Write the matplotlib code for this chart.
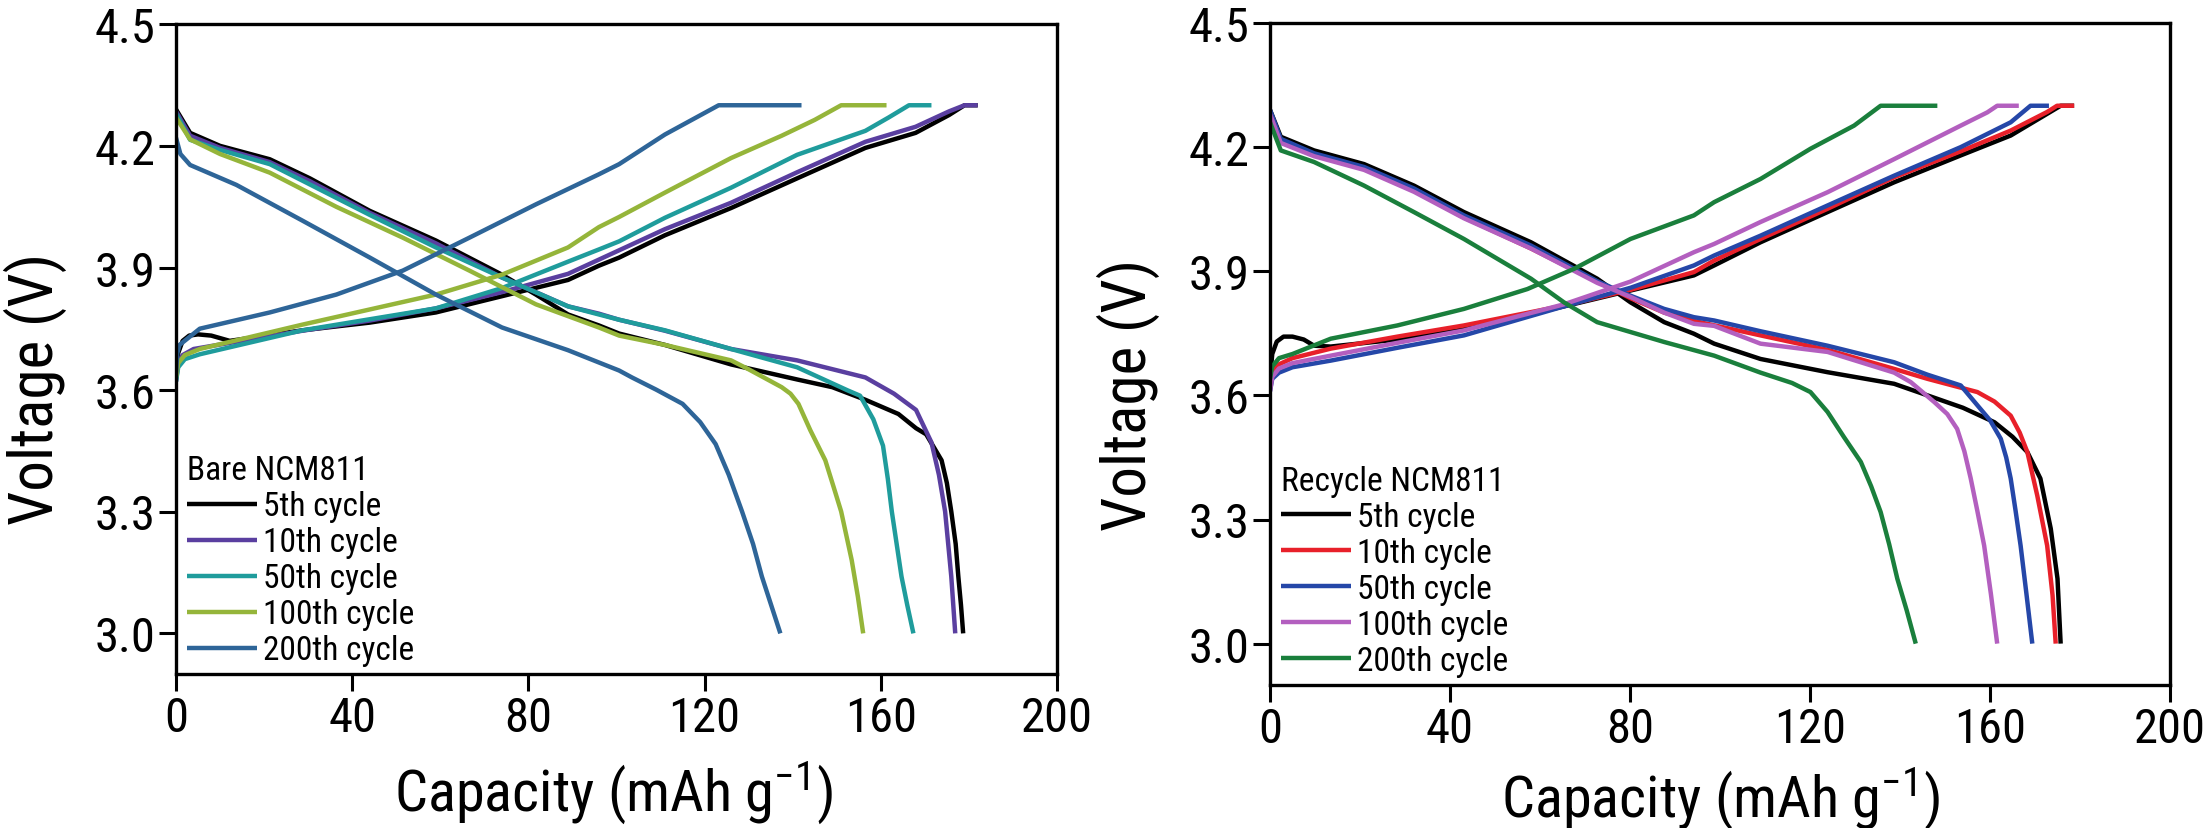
import matplotlib
matplotlib.use("Agg")
import matplotlib.pyplot as plt
from matplotlib import font_manager
from matplotlib.ticker import FormatStrFormatter

CYCLES = ["5th cycle", "10th cycle", "50th cycle", "100th cycle", "200th cycle"]
BARE_COLORS = ["#000000", "#5a3fa0", "#1f9c9c", "#95b53a", "#2e6598"]
RECY_COLORS = ["#000000", "#e8202a", "#2547a8", "#b35fbf", "#1a7f3c"]

# ---- Bare NCM811, charge branches (capacity mAh/g, voltage V)
bare5_ch_q = [0, 0.5, 1.5, 3, 5, 8, 12.2, 28.7, 44, 59, 74, 89, 96, 100.6, 111, 126, 141, 156.5, 167.9, 175.5, 179, 182]
bare5_ch_v = [3.63, 3.69, 3.72, 3.733, 3.736, 3.733, 3.72, 3.746, 3.765, 3.79, 3.83, 3.87, 3.905, 3.925, 3.98, 4.047, 4.12, 4.195, 4.232, 4.276, 4.30, 4.30]
bare10_ch_q = [0, 0.5, 1.5, 4, 12.2, 28.7, 44, 59, 74, 89, 96, 111, 126, 141, 156.5, 167.9, 175.5, 179, 182]
bare10_ch_v = [3.62, 3.665, 3.685, 3.70, 3.715, 3.745, 3.77, 3.80, 3.84, 3.885, 3.92, 3.995, 4.06, 4.135, 4.21, 4.247, 4.285, 4.30, 4.30]
bare50_ch_q = [0, 0.5, 2, 5.4, 28.7, 59, 74, 89, 96, 100.6, 111, 126, 141, 156.5, 161.8, 166.4, 171.5]
bare50_ch_v = [3.62, 3.655, 3.675, 3.687, 3.746, 3.80, 3.85, 3.915, 3.945, 3.965, 4.023, 4.097, 4.178, 4.237, 4.27, 4.30, 4.30]
bare100_ch_q = [0, 0.5, 2, 5.4, 28.7, 59, 74, 89, 96, 100.6, 111, 126, 137.5, 145, 151, 161.3]
bare100_ch_v = [3.63, 3.665, 3.685, 3.70, 3.76, 3.834, 3.883, 3.95, 4.0, 4.025, 4.085, 4.17, 4.225, 4.264, 4.30, 4.30]
bare200_ch_q = [0, 0.3, 0.8, 5.4, 21.3, 36.4, 51.5, 66.6, 81.7, 96, 100.6, 111, 123.2, 142]
bare200_ch_v = [3.64, 3.69, 3.71, 3.75, 3.79, 3.834, 3.893, 3.974, 4.056, 4.13, 4.155, 4.228, 4.30, 4.30]

# ---- Bare NCM811, discharge branches
bare5_dis_q = [0, 3.2, 10, 21.3, 30.4, 44, 59, 74, 81.7, 89, 96, 100.6, 111, 126, 141, 149, 156.5, 164, 168, 170.3, 173.8, 175, 176, 177, 177.6, 178.2, 178.7]
bare5_dis_v = [4.29, 4.232, 4.20, 4.167, 4.12, 4.04, 3.967, 3.883, 3.834, 3.785, 3.758, 3.738, 3.71, 3.662, 3.625, 3.606, 3.575, 3.54, 3.505, 3.49, 3.426, 3.37, 3.30, 3.22, 3.14, 3.07, 3.0]
bare10_dis_q = [0, 3.2, 10, 21.3, 30.4, 44, 59, 74, 81.7, 89, 96, 100.6, 111, 126, 141, 156.5, 163, 168, 171.5, 173.2, 174.6, 176, 176.9]
bare10_dis_v = [4.285, 4.225, 4.195, 4.16, 4.113, 4.035, 3.96, 3.876, 3.84, 3.805, 3.787, 3.772, 3.745, 3.70, 3.672, 3.63, 3.59, 3.55, 3.47, 3.39, 3.30, 3.14, 3.0]
bare50_dis_q = [0, 3.2, 10, 21.3, 30.4, 44, 59, 74, 89, 96, 100.6, 111, 126, 141, 152.5, 155.3, 158.3, 160.5, 161.6, 162.5, 163.6, 164.7, 166, 167.4]
bare50_dis_v = [4.28, 4.215, 4.19, 4.155, 4.105, 4.03, 3.95, 3.876, 3.805, 3.785, 3.772, 3.746, 3.70, 3.655, 3.598, 3.585, 3.527, 3.462, 3.38, 3.30, 3.22, 3.14, 3.07, 3.0]
bare100_dis_q = [0, 3.2, 10, 21.3, 36.4, 51.5, 66.6, 81.7, 96, 100.6, 111, 126, 130, 137.5, 139.5, 141.3, 144, 147.4, 149.3, 151, 153.4, 154.8, 156]
bare100_dis_v = [4.27, 4.216, 4.18, 4.134, 4.05, 3.974, 3.893, 3.81, 3.753, 3.733, 3.71, 3.672, 3.65, 3.606, 3.59, 3.565, 3.50, 3.426, 3.36, 3.30, 3.18, 3.09, 3.0]
bare200_dis_q = [0, 1, 3.2, 13.7, 28.7, 44, 59, 74, 89, 100.6, 103.5, 109, 115, 119, 122.5, 125.5, 128.5, 131, 133, 137.2]
bare200_dis_v = [4.22, 4.18, 4.153, 4.104, 4.016, 3.925, 3.834, 3.753, 3.697, 3.647, 3.63, 3.60, 3.565, 3.52, 3.466, 3.39, 3.30, 3.22, 3.14, 3.0]

# ---- Recycle NCM811, charge branches
recy5_ch_q = [0, 0.5, 1.5, 3, 5, 7.5, 9.8, 13.5, 28.3, 43.1, 65.3, 94.2, 98.7, 109, 123.9, 138.7, 153.5, 164.6, 172, 175.7, 178.7]
recy5_ch_v = [3.64, 3.70, 3.73, 3.742, 3.742, 3.735, 3.72, 3.718, 3.735, 3.76, 3.815, 3.89, 3.914, 3.97, 4.043, 4.115, 4.18, 4.228, 4.276, 4.30, 4.30]
recy10_ch_q = [0, 0.5, 2, 5, 13.5, 28.3, 43.1, 65.3, 80.1, 94.2, 98.7, 109, 123.9, 138.7, 153.5, 164.6, 172.7, 174.9, 178.7]
recy10_ch_v = [3.63, 3.66, 3.675, 3.69, 3.713, 3.742, 3.769, 3.817, 3.855, 3.898, 3.926, 3.978, 4.051, 4.127, 4.19, 4.24, 4.285, 4.30, 4.30]
recy50_ch_q = [0, 0.5, 2, 5, 13.5, 28.3, 43.1, 65.3, 80.1, 94.2, 98.7, 109, 123.9, 138.7, 153.5, 164.6, 169, 173.1]
recy50_ch_v = [3.61, 3.64, 3.655, 3.668, 3.684, 3.715, 3.745, 3.815, 3.86, 3.914, 3.938, 3.986, 4.059, 4.131, 4.20, 4.26, 4.30, 4.30]
recy100_ch_q = [0, 0.5, 2, 5, 13.5, 28.3, 43.1, 65.3, 80.1, 94.2, 98.7, 109, 123.9, 138.7, 153.5, 159.4, 161.6, 166.4]
recy100_ch_v = [3.61, 3.645, 3.665, 3.678, 3.696, 3.727, 3.757, 3.82, 3.875, 3.946, 3.966, 4.019, 4.091, 4.171, 4.252, 4.284, 4.30, 4.30]
recy200_ch_q = [0, 0.5, 2, 5, 13.5, 28.3, 43.1, 57.2, 67.6, 80.1, 94.2, 98.7, 109, 120.1, 129.8, 135.7, 148.3]
recy200_ch_v = [3.64, 3.67, 3.69, 3.70, 3.737, 3.769, 3.809, 3.857, 3.906, 3.978, 4.035, 4.067, 4.123, 4.196, 4.252, 4.30, 4.30]

# ---- Recycle NCM811, discharge branches
recy5_dis_q = [0, 2.4, 9.8, 20.9, 32, 43.1, 58, 72.7, 80.1, 87.6, 94.2, 98.7, 109, 123.9, 138.7, 146.1, 154, 161, 165, 168.3, 171.2, 173.5, 175, 175.7]
recy5_dis_v = [4.29, 4.225, 4.192, 4.159, 4.107, 4.043, 3.970, 3.882, 3.825, 3.777, 3.749, 3.725, 3.688, 3.656, 3.628, 3.60, 3.57, 3.535, 3.50, 3.463, 3.399, 3.278, 3.157, 3.0]
recy10_dis_q = [0, 2.4, 9.8, 20.9, 32, 43.1, 58, 72.7, 80.1, 87.6, 94.2, 109, 123.9, 138.7, 146.1, 157.2, 161, 164.6, 166.6, 168.3, 170.5, 172.7, 173.9, 174.6]
recy10_dis_v = [4.28, 4.215, 4.182, 4.148, 4.095, 4.03, 3.955, 3.875, 3.835, 3.80, 3.78, 3.745, 3.71, 3.664, 3.64, 3.608, 3.585, 3.551, 3.51, 3.463, 3.358, 3.237, 3.117, 3.0]
recy50_dis_q = [0, 2.4, 9.8, 20.9, 32, 43.1, 58, 72.7, 80.1, 87.6, 94.2, 98.7, 109, 123.9, 138.7, 146.1, 153.5, 157.2, 160, 162.4, 163.6, 164.6, 165.7, 166.8, 168.1, 169.4]
recy50_dis_v = [4.29, 4.22, 4.185, 4.152, 4.10, 4.035, 3.962, 3.876, 3.841, 3.809, 3.789, 3.781, 3.755, 3.72, 3.68, 3.65, 3.624, 3.576, 3.54, 3.495, 3.45, 3.399, 3.32, 3.237, 3.12, 3.0]
recy100_dis_q = [0, 2.4, 9.8, 20.9, 32, 43.1, 58, 72.7, 80.1, 87.6, 94.2, 98.7, 109, 123.9, 138.7, 142.4, 147.6, 150.5, 152.7, 154.3, 155.7, 157.2, 158.7, 160.2, 161.6]
recy100_dis_v = [4.28, 4.21, 4.178, 4.145, 4.092, 4.028, 3.955, 3.872, 3.838, 3.80, 3.773, 3.768, 3.725, 3.705, 3.655, 3.632, 3.584, 3.555, 3.519, 3.465, 3.40, 3.32, 3.237, 3.12, 3.0]
recy200_dis_q = [0, 2.4, 9.8, 20.9, 32, 43.1, 58, 65.3, 72.7, 87.6, 98.7, 109, 116, 120.1, 123.9, 127.5, 131.3, 133.6, 135.7, 137.6, 139.4, 141.5, 143.5]
recy200_dis_v = [4.26, 4.192, 4.164, 4.107, 4.043, 3.978, 3.882, 3.825, 3.777, 3.729, 3.696, 3.655, 3.63, 3.608, 3.56, 3.50, 3.439, 3.38, 3.318, 3.24, 3.157, 3.08, 3.0]

XTICKS = [0, 40, 80, 120, 160, 200]
YTICKS = [3.0, 3.3, 3.6, 3.9, 4.2, 4.5]


def pick_font():
    # the original uses a narrow Helvetica; take a condensed face if one is installed
    fonts = font_manager.fontManager.ttflist
    names = {f.name for f in fonts}
    for n in ["Liberation Sans Narrow", "Arial Narrow", "Roboto Condensed", "Open Sans Condensed"]:
        if n in names:
            return {"family": n}, True
    for f in fonts:
        if (f.name in ("Noto Sans", "DejaVu Sans", "Open Sans") and f.style == "normal"
                and f.weight in (400, "normal", "regular") and "condensed" in str(f.stretch)):
            return {"family": f.name, "stretch": f.stretch}, True
    return {"family": "Liberation Sans"}, False


FONT, narrow = pick_font()
TICK_SIZE, XLAB_SIZE, YLAB_SIZE, LEG_SIZE = (35, 42, 44, 24) if narrow else (31, 37, 39, 22)

plt.rcParams["font.family"] = [FONT["family"], "DejaVu Sans"]
if "stretch" in FONT:
    plt.rcParams["font.stretch"] = FONT["stretch"]
plt.rcParams["mathtext.default"] = "regular"

panels = [
    {
        "title": "Bare NCM811",
        "colors": BARE_COLORS,
        "charge": [(bare5_ch_q, bare5_ch_v), (bare10_ch_q, bare10_ch_v), (bare50_ch_q, bare50_ch_v),
                   (bare100_ch_q, bare100_ch_v), (bare200_ch_q, bare200_ch_v)],
        "discharge": [(bare5_dis_q, bare5_dis_v), (bare10_dis_q, bare10_dis_v), (bare50_dis_q, bare50_dis_v),
                      (bare100_dis_q, bare100_dis_v), (bare200_dis_q, bare200_dis_v)],
        "rect": [176 / 2205, 1 - 675 / 829, 881 / 2205, 650 / 829],
        "xlab": (0.497, -0.13),
        "ylab": (-0.124, 0.44),
    },
    {
        "title": "Recycle NCM811",
        "colors": RECY_COLORS,
        "charge": [(recy5_ch_q, recy5_ch_v), (recy10_ch_q, recy10_ch_v), (recy50_ch_q, recy50_ch_v),
                   (recy100_ch_q, recy100_ch_v), (recy200_ch_q, recy200_ch_v)],
        "discharge": [(recy5_dis_q, recy5_dis_v), (recy10_dis_q, recy10_dis_v), (recy50_dis_q, recy50_dis_v),
                      (recy100_dis_q, recy100_dis_v), (recy200_dis_q, recy200_dis_v)],
        "rect": [1270 / 2205, 1 - 686 / 829, 900 / 2205, 662 / 829],
        "xlab": (0.50, -0.12),
        "ylab": (-0.122, 0.44),
    },
]

fig = plt.figure(figsize=(22.05, 8.29), dpi=100)
fig.patch.set_facecolor("white")

for p in panels:
    ax = fig.add_axes(p["rect"])
    for i, label in enumerate(CYCLES):
        c = p["colors"][i]
        q, v = p["charge"][i]
        ax.plot(q, v, color=c, lw=3.2, solid_capstyle="butt", solid_joinstyle="round", label=label)
        q, v = p["discharge"][i]
        ax.plot(q, v, color=c, lw=3.2, solid_capstyle="butt", solid_joinstyle="round")

    ax.set_xlim(0, 200)
    ax.set_ylim(2.9, 4.5)
    ax.set_xticks(XTICKS)
    ax.set_yticks(YTICKS)
    ax.yaxis.set_major_formatter(FormatStrFormatter("%.1f"))
    ax.tick_params(direction="out", length=12, width=2.2, labelsize=TICK_SIZE, pad=3,
                   top=False, right=False)
    for s in ax.spines.values():
        s.set_linewidth(2.4)

    ax.set_xlabel(r"Capacity (mAh g$^{-1}$)", fontsize=XLAB_SIZE)
    ax.set_ylabel("Voltage (V)", fontsize=YLAB_SIZE)
    ax.xaxis.set_label_coords(*p["xlab"])
    ax.yaxis.set_label_coords(*p["ylab"])

    leg = ax.legend(title=p["title"], loc="lower left", bbox_to_anchor=(0.012, 0.012),
                    frameon=False, fontsize=LEG_SIZE, title_fontsize=LEG_SIZE, alignment="left",
                    handlelength=2.1, handletextpad=0.2, labelspacing=0.12,
                    borderpad=0, borderaxespad=0)
    for h in leg.get_lines():
        h.set_linewidth(3.2)

fig.savefig("out.png", dpi=100, facecolor="white")
